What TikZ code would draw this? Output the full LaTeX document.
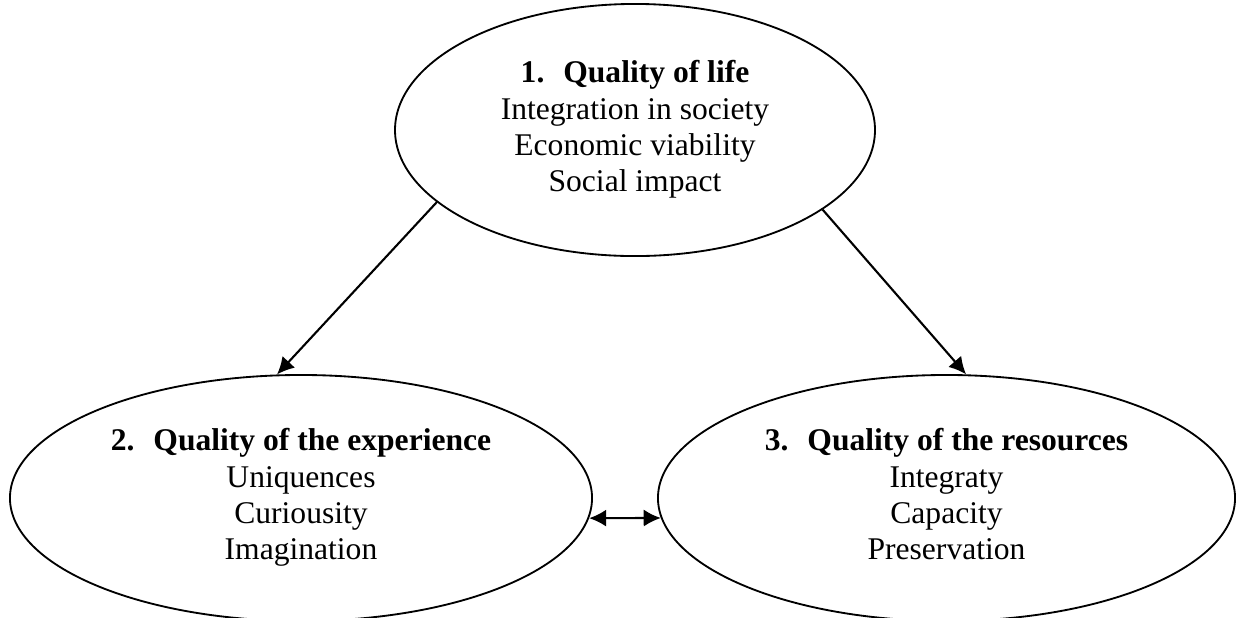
\documentclass[tikz,border=0pt]{standalone}
\usepackage{fontspec}
\setmainfont{Liberation Serif}
\usetikzlibrary{arrows.meta,shapes.geometric}

\begin{document}
\begin{tikzpicture}[x=0.38pt, y=-0.38pt, >={Latex[length=6.5pt,width=6.5pt]},
        line width=0.8pt, font=\fontsize{12}{13.8}\selectfont]
        \tikzset{
            oval/.style={draw, ellipse, inner sep=0pt, align=center, line width=0.7pt}
        }
        \useasboundingbox (0,0) rectangle (1243,617);
        %% ---- Ovals ----
        \node[oval, minimum width=182.4pt, minimum height=95.8pt] (life) at (635,130)
            {\textbf{1.\hspace{0.6em}Quality of life}\strut\\Integration in society\\Economic viability\\Social impact\strut};
        \node[oval, minimum width=221.2pt, minimum height=93.5pt] (exp) at (301,498)
            {\textbf{2.\hspace{0.6em}Quality of the experience}\strut\\Uniquences\\Curiousity\\Imagination\strut};
        \node[oval, minimum width=219.3pt, minimum height=93.5pt] (res) at (946.5,498)
            {\textbf{3.\hspace{0.6em}Quality of the resources}\strut\\Integraty\\Capacity\\Preservation\strut};
        %% ---- Arrows ----
        \draw[->]  (life.200.7) -- (exp.101.9);
        \draw[->]  (life.337.3) -- (res.81.2);
        \draw[<->] (exp.-4.6) -- (res.184.6);
    \end{tikzpicture}
\end{document}
